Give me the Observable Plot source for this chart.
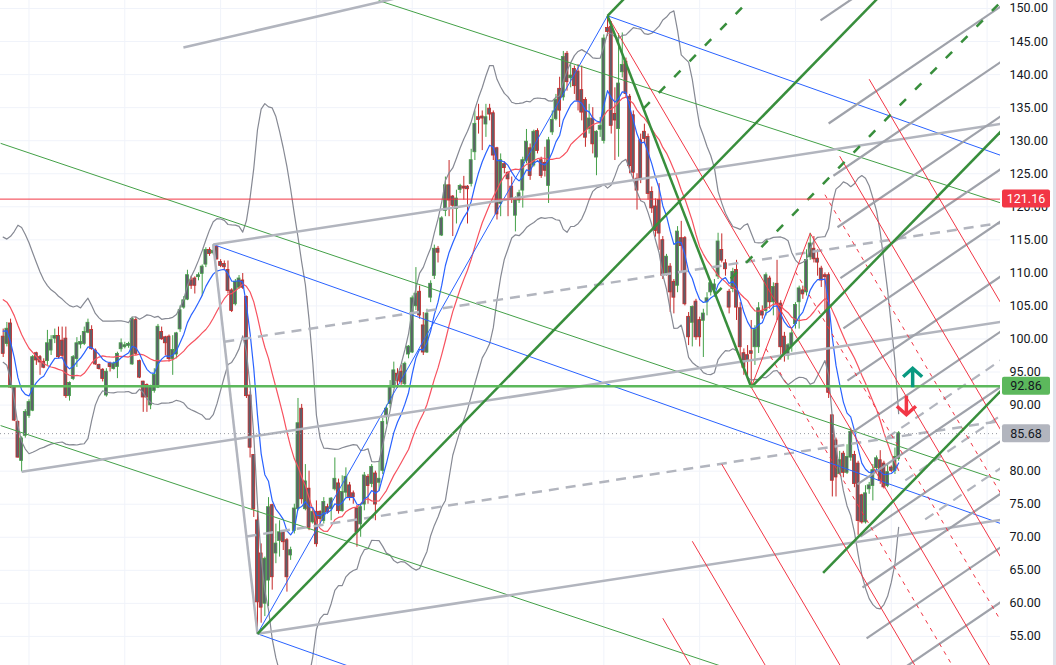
<!DOCTYPE html>
<html><head><meta charset="utf-8">
<script src="https://cdn.jsdelivr.net/npm/d3@7"></script>
<script src="https://cdn.jsdelivr.net/npm/@observablehq/plot@0.6"></script>
<style>
body{margin:0;background:#fff;font-family:Roboto,"Liberation Sans",sans-serif;}
#chart svg{display:block;}
</style>
</head><body><div id="chart"></div>
<script>
// ---------- candle data (bar index 0..243) ----------
const opens = [100.3,99.3,102.3,92.7,87.4,81.6,85.4,88.4,89.2,97.8,97.2,96.5,96.7,98.3,100.1,100.4,99.7,100.0,91.4,94.0,97.0,99.2,99.3,101.0,101.3,98.2,96.0,95.3,91.5,96.2,95.5,95.8,98.5,98.8,99.0,96.2,102.8,96.6,93.5,93.0,90.0,92.2,92.7,
101.0,100.2,100.3,97.0,97.7,101.5,104.8,106.0,108.8,109.1,109.4,109.9,111.3,113.4,113.0,113.9,111.6,111.3,110.4,107.3,105.3,107.8,108.8,106.3,91.4,82.4,72.5,67.5,60.0,63.5,74.8,67.6,69.5,70.7,69.5,67.3,71.0,74.3,
89.4,74.3,77.3,72.3,73.8,73.8,72.5,74.5,74.3,77.3,78.1,74.0,76.8,77.8,76.6,74.3,72.0,75.0,79.1,78.1,79.6,78.3,80.1,88.2,90.2,92.7,94.7,95.0,93.2,97.7,98.0,105.0,
107.1,102.0,98.0,106.3,109.6,113.6,115.7,119.4,123.2,121.5,119.7,122.6,123.0,123.0,123.5,128.3,133.5,133.6,132.5,134.8,134.1,128.8,120.5,126.4,125.1,123.0,118.7,121.0,122.5,127.0,128.8,126.3,131.4,127.0,126.6,123.2,131.3,133.3,
137.8,136.6,143.1,139.5,140.8,140.4,137.6,136.1,131.8,133.3,127.5,131.7,130.0,147.0,147.2,134.0,131.8,140.4,141.9,136.6,133.8,124.2,130.0,131.3,130.5,122.2,120.0,121.0,114.9,
109.9,110.9,108.6,108.1,115.2,115.2,103.3,102.5,105.6,102.8,102.8,105.6,107.1,107.5,109.5,113.4,111.4,107.1,107.6,110.4,104.6,97.8,97.5,
98.1,98.8,98.8,104.1,104.3,109.1,105.6,108.3,105.3,100.3,97.5,99.0,102.3,105.6,107.3,107.1,112.4,113.6,112.1,110.6,109.6,
109.6,88.4,84.6,79.6,82.6,79.8,82.1,82.4,81.1,76.3,72.3,77.3,77.8,80.5,81.6,81.1,77.8,80.5,80.1,81.9];
const highs = [101.5,102.5,103.0,92.9,87.6,85.2,89.3,90.8,97.5,98.0,97.5,97.0,101.3,100.5,101.5,101.8,101.8,101.8,93.5,97.5,100.2,100.5,101.8,103.0,102.0,98.5,96.2,95.5,95.5,96.5,96.5,98.0,100.0,99.5,99.5,103.3,103.3,96.8,93.6,93.2,93.0,95.5,102.2,
101.8,100.4,100.6,100.5,101.0,105.0,106.4,110.4,109.5,109.4,110.0,111.2,113.8,113.8,114.3,114.0,112.0,111.8,111.8,107.6,109.0,109.6,109.9,106.5,92.0,82.5,74.0,69.0,67.0,76.0,75.0,72.0,72.5,71.0,69.8,68.5,75.0,91.0,
90.1,81.0,80.0,74.5,75.5,74.0,76.0,75.0,76.0,82.0,78.8,79.3,80.5,78.3,77.0,74.8,75.0,79.8,79.5,81.0,80.0,81.5,88.0,90.0,93.7,96.5,95.5,96.0,96.5,99.0,106.5,110.8,
108.0,104.0,104.5,108.8,114.2,114.0,118.5,124.5,127.0,121.7,122.5,123.4,124.6,123.2,128.7,134.5,135.5,134.5,135.5,135.5,134.5,129.0,128.0,126.8,125.3,124.5,121.5,122.5,127.5,131.7,129.5,131.6,131.8,127.5,129.0,130.5,134.5,137.0,
139.6,143.5,143.5,141.5,141.3,141.5,141.3,136.5,135.5,135.0,131.5,133.5,146.0,148.9,148.0,138.0,146.2,146.3,142.5,137.0,134.5,125.0,131.0,132.5,131.0,123.0,121.2,123.5,115.5,
112.8,111.4,109.0,117.0,117.8,115.5,104.0,105.0,106.0,103.3,104.5,107.0,108.8,109.0,116.0,115.9,112.0,107.5,110.7,111.9,105.5,98.5,99.0,
102.8,102.0,105.5,105.0,110.0,109.5,108.5,111.9,105.8,101.0,99.3,101.5,105.5,108.0,108.0,113.5,116.0,115.5,113.5,111.0,110.0,
110.0,88.5,85.0,83.0,83.0,84.0,86.5,83.0,81.5,76.5,77.8,78.3,81.0,82.3,83.1,81.5,81.1,80.8,83.5,86.0];
const lows = [97.2,98.8,92.5,87.5,82.0,79.9,85.0,88.0,89.0,96.0,94.5,95.5,96.0,97.5,99.3,97.0,97.0,91.0,90.6,93.7,95.7,98.5,99.0,100.8,98.3,96.0,95.3,93.5,91.2,95.0,95.3,94.0,98.0,98.5,98.6,96.0,97.5,94.0,88.9,88.9,89.3,91.8,92.5,
99.8,97.5,96.5,94.5,97.0,101.0,104.5,105.8,107.5,106.8,108.8,106.5,110.8,112.5,112.7,111.9,110.8,110.4,106.8,104.0,105.0,107.5,107.5,91.0,82.0,73.0,55.4,57.0,58.0,59.5,62.0,66.0,67.0,68.0,61.7,66.5,70.5,74.0,
75.0,74.0,71.0,72.0,68.5,72.0,72.0,73.5,72.5,77.0,73.5,73.8,76.0,75.5,75.0,68.5,70.0,74.0,75.0,77.5,72.5,77.0,79.5,87.0,89.5,92.5,92.5,93.0,92.7,97.0,97.8,104.3,
103.0,97.5,97.8,105.5,109.0,111.5,115.5,118.5,118.5,115.5,117.4,122.0,121.0,117.4,123.0,127.0,131.0,128.5,130.5,133.0,127.0,118.0,118.5,125.0,118.5,120.5,116.2,120.5,119.8,126.5,124.0,126.0,128.0,124.3,124.5,120.5,130.8,133.0,
132.0,136.0,137.5,138.0,137.0,134.5,133.0,129.0,131.0,128.0,124.7,130.5,129.5,145.8,131.0,127.0,127.5,139.5,136.5,125.0,124.0,119.5,123.5,129.5,121.0,119.0,115.4,113.4,109.0,
109.5,104.0,103.8,107.0,110.0,105.0,99.0,98.8,99.8,98.8,97.2,103.5,106.5,106.3,109.0,111.5,109.5,103.8,107.0,102.8,97.0,94.5,94.3,
92.7,96.0,97.8,103.0,103.5,104.5,103.5,102.8,96.8,96.5,96.8,98.0,101.5,101.5,106.0,106.5,111.9,111.5,109.5,107.8,104.0,
91.0,76.1,76.1,79.5,79.0,79.5,81.5,77.5,70.3,72.0,72.0,76.5,75.5,80.0,78.0,77.3,77.5,79.8,79.5,81.5];
const closes = [97.8,101.5,92.7,87.7,82.1,84.9,88.9,90.4,97.2,96.8,96.5,95.7,99.3,99.8,100.4,97.3,97.5,91.4,93.3,97.2,99.3,99.5,101.0,102.4,98.5,96.2,95.5,94.0,95.0,95.8,96.2,97.7,99.3,99.0,99.2,103.0,97.8,94.2,91.2,91.2,92.7,94.5,101.8,
100.0,99.4,97.0,98.3,100.8,104.3,105.8,109.6,108.1,108.1,109.6,110.9,113.4,112.9,113.3,112.1,111.1,110.9,107.3,104.3,108.6,109.1,107.8,91.4,83.6,74.3,60.2,59.4,66.7,74.5,64.0,69.0,70.7,69.3,64.0,68.0,74.3,87.2,
75.8,78.4,71.5,73.8,69.0,72.8,75.3,73.8,75.8,78.8,74.0,76.8,79.1,76.1,76.1,70.8,74.5,79.3,77.8,80.6,75.0,78.8,87.4,89.4,92.7,95.2,93.7,93.5,96.2,98.8,106.1,106.8,
103.6,98.0,103.8,108.3,113.6,113.1,118.2,123.2,121.0,120.2,121.2,123.1,122.8,122.7,127.0,132.5,133.2,133.4,133.5,134.0,127.8,118.9,127.0,125.9,124.2,121.2,121.0,122.0,127.0,129.8,124.7,131.3,128.5,124.7,125.5,130.0,133.1,136.1,
134.6,142.6,138.9,139.8,138.3,136.1,134.3,130.5,133.3,129.5,131.3,132.2,145.4,146.5,132.3,133.1,138.6,141.4,137.1,126.2,125.2,122.5,124.2,130.3,122.0,119.8,116.4,116.0,109.6,
112.4,107.1,106.3,116.2,114.1,105.3,100.3,104.8,100.3,100.3,103.8,106.1,108.4,108.2,114.7,111.9,110.6,104.8,110.1,104.8,98.8,95.7,96.8,
97.8,101.3,104.6,103.6,109.6,105.6,107.8,105.3,98.8,97.8,99.0,100.8,105.1,107.6,106.8,111.9,114.4,112.1,111.6,108.9,109.4,
91.9,78.6,79.1,81.6,79.8,82.1,85.9,78.1,72.5,72.3,76.6,77.8,80.1,81.9,78.6,77.6,79.8,80.1,82.1,85.68];
// closes of the 20 sessions before the visible window (estimated from the indicator levels at the left edge)
const priorCloses = [108,109,110,111,112,112,111,110,110,109,108,106,105,104,103,102,101,100,99,99];

// ---------- axis ----------
const yTickValues = [55,60,65,70,75,80,90,95,100,105,110,115,120,125,130,135,140,145,150];
const gridTickValues = [55,60,65,70,75,80,85,90,95,100,105,110,115,120,125,130,135,140,145,150];
const gridBars = [7,33,59,85,111,137,163,189,215,241,267];

// ---------- price lines / tags ----------
const resistancePrice = 121.16;
const supportPrice = 92.86;
const lastPrice = 85.68;

// ---------- drawing anchors [bar, price] ----------
const grayForkA = [5, 79.9], grayForkB = [57, 114.3], grayForkC = [69, 55.4];
const greenForkA = [69, 55.4], greenForkB = [164, 148.9], greenForkC = [203, 92.7];
const redForkA = [164, 148.9], redForkB = [203, 92.7], redForkC = [219, 116.0];
// separate gray trend line [startBar, startPrice, endBar, endPrice]
const grayTrend = [[48.9, 144.1, 107.0, 151.6]];
// thin green channel lines
const greenChannel = [[-0.7,129.6,270.6,78.6],[-0.7,86.9,270.6,36.4],[101.9,151.2,270.6,120.6]];
// blue lines
const blueLines = [[57,114.3,270.6,72.1],[164,148.9,270.6,127.8],[69,55.4,270.6,15.5],[69,55.4,164,148.9]];
// right-side gray fan: start points [bar, price], common slope (price per bar)
const fanStarts = [[221.8,148.2],[224.0,132.6],[225.3,124.7],[226.4,116.9],[227.2,109.2],[228.0,101.6],[229.1,93.7],[230.5,85.9],[231.8,78.0],[232.6,70.1],[233.2,62.4],[234.3,54.7],[235.4,46.8]];
const fanDashedStarts = [[239.9,85.1],[244.8,78.6],[250.2,72.7]];
const fanSlope = 0.379;
// signal arrows [bar, price at centre]
const upArrow = [246.8, 94.2];
const downArrow = [245.1, 89.9];

// ---------- build ----------
const bars = closes.map((c, i) => ({i, o: opens[i], h: highs[i], l: lows[i], c, up: c >= opens[i]}));
const series = priorCloses.concat(closes);
const P = priorCloses.length;
const bb = closes.map((c, i) => {
  const j = i + P;
  const win = series.slice(Math.max(0, j - 19), j + 1);
  const m = d3.mean(win);
  const sd = Math.sqrt(d3.mean(win, v => (v - m) * (v - m)));
  return {i, m, up: m + 2 * sd, lo: m - 2 * sd};
});
const ema = [];
{
  const k = 2 / (9 + 1);
  let e = d3.mean(series.slice(0, 9));
  for (let j = 9; j < series.length; j++) {
    e = series[j] * k + e * (1 - k);
    if (j >= P) ema.push({i: j - P, v: e});
  }
}

function fork(A, B, C, levels) {
  const M = [(B[0] + C[0]) / 2, (B[1] + C[1]) / 2];
  const d = [M[0] - A[0], M[1] - A[1]];
  return levels.map(k => {
    const s = k === 0 ? A : [M[0] + k * (B[0] - M[0]), M[1] + k * (B[1] - M[1])];
    return {x1: s[0], y1: s[1], x2: s[0] + 6 * d[0], y2: s[1] + 6 * d[1]};
  });
}
function seg(P1, P2) { return {x1: P1[0], y1: P1[1], x2: P2[0], y2: P2[1]}; }
const rows = arr => arr.map(a => ({x1: a[0], y1: a[1], x2: a[2], y2: a[3]}));

const grayForkSolid = fork(grayForkA, grayForkB, grayForkC, [0, 1, -1]).concat([seg(grayForkB, grayForkC)], rows(grayTrend));
const grayForkDash = fork(grayForkA, grayForkB, grayForkC, [0.5, -0.5]);
const greenForkSolid = fork(greenForkA, greenForkB, greenForkC, [0, 1, -1, -2]).concat([seg(greenForkB, greenForkC)]);
const greenForkDash = fork(greenForkA, greenForkB, greenForkC, [0.5, -0.5]);
const redForkSolid = fork(redForkA, redForkB, redForkC, [0, -1, -2, -3, 1, 2, 3, 4, 5]).concat([seg(redForkB, redForkC)]);
const redForkDash = fork(redForkA, redForkB, redForkC, [0.5, -0.5, -1.5]);
const fanSolid = fanStarts.map(s => ({x1: s[0], y1: s[1], x2: s[0] + 60, y2: s[1] + 60 * fanSlope}));
const fanDash = fanDashedStarts.map(s => ({x1: s[0], y1: s[1], x2: s[0] + 60, y2: s[1] + 60 * fanSlope}));
const chan = rows(greenChannel);
const blues = rows(blueLines);
const lnk = (data, o) => Plot.link(data, {x1: "x1", y1: "y1", x2: "x2", y2: "y2", clip: true, ...o});

// arrow symbols (custom d3 symbol types)
const arrowUpSymbol = {draw(ctx, size) { const s = Math.sqrt(size / Math.PI);
  ctx.moveTo(0, s); ctx.lineTo(0, -s * 0.85); ctx.moveTo(-s * 0.95, -s * 0.05); ctx.lineTo(0, -s * 0.9); ctx.lineTo(s * 0.95, -s * 0.05); }};
const arrowDownSymbol = {draw(ctx, size) { const s = Math.sqrt(size / Math.PI);
  ctx.moveTo(0, -s); ctx.lineTo(0, s * 0.85); ctx.moveTo(-s * 0.95, s * 0.05); ctx.lineTo(0, s * 0.9); ctx.lineTo(s * 0.95, s * 0.05); }};

const UP = "#43a047", DN = "#c62828", BODY = "#5d606b";
const tags = [
  {price: resistancePrice, bg: "#f23645", fg: "#ffffff"},
  {price: supportPrice, bg: "#5cb85c", fg: "#131722"},
  {price: lastPrice, bg: "#b2b5be", fg: "#131722"}
];

function tagMark(index, scales, values, dimensions) {
  const g = d3.create("svg:g");
  const x0 = dimensions.width - dimensions.marginRight + 2;
  for (const t of tags) {
    const y = scales.y(t.price);
    g.append("rect").attr("x", x0).attr("y", y - 9).attr("width", 48).attr("height", 18).attr("rx", 2).attr("fill", t.bg);
    g.append("text").attr("x", x0 + 24).attr("y", y).attr("dy", "0.36em").attr("text-anchor", "middle")
      .attr("font-size", 12.5).attr("fill", t.fg).text(t.price.toFixed(2));
  }
  g.append("rect").attr("x", dimensions.width - 3).attr("y", 0).attr("width", 3).attr("height", dimensions.height).attr("fill", "#e0e3eb");
  return g.node();
}

const chart = Plot.plot({
  width: 1056, height: 665,
  marginLeft: 0, marginRight: 56, marginTop: 0, marginBottom: 0,
  style: {fontFamily: "Roboto, 'Liberation Sans', sans-serif", fontSize: "12.5px", background: "#ffffff", color: "#131722"},
  x: {domain: [-0.733, 270.64], axis: null},
  y: {domain: [50.6, 151.21]},
  marks: [
    Plot.ruleY(gridTickValues, {stroke: "#f0f3fa", strokeWidth: 1}),
    Plot.ruleX(gridBars, {stroke: "#f0f3fa", strokeWidth: 1}),
    // candles
    Plot.ruleX(bars, {x: "i", y1: "l", y2: "h", stroke: d => d.up ? UP : DN, strokeWidth: 1}),
    Plot.rect(bars, {x1: d => d.i - 0.4, x2: d => d.i + 0.4, y1: d => Math.min(d.o, d.c) - 0.05, y2: d => Math.max(d.o, d.c) + 0.05,
      fill: BODY, stroke: d => d.up ? UP : DN, strokeWidth: 0.8}),
    // indicators
    Plot.line(bb, {x: "i", y: "up", stroke: "#868993", strokeWidth: 1.2, clip: true}),
    Plot.line(bb, {x: "i", y: "lo", stroke: "#868993", strokeWidth: 1.2, clip: true}),
    Plot.line(bb, {x: "i", y: "m", stroke: "#f7525f", strokeWidth: 1.2, clip: true}),
    Plot.line(ema, {x: "i", y: "v", stroke: "#2962ff", strokeWidth: 1.2, clip: true}),
    // drawings
    lnk(chan, {stroke: "#43a047", strokeWidth: 1}),
    lnk(blues, {stroke: "#2962ff", strokeWidth: 1}),
    lnk(grayForkSolid, {stroke: "#b2b5be", strokeWidth: 2.5}),
    lnk(grayForkDash, {stroke: "#b2b5be", strokeWidth: 2.5, strokeDasharray: "10,7"}),
    lnk(fanSolid, {stroke: "#9fa2aa", strokeWidth: 2.2}),
    lnk(fanDash, {stroke: "#b2b5be", strokeWidth: 2.2, strokeDasharray: "10,7"}),
    lnk(redForkSolid, {stroke: "#f23645", strokeWidth: 1}),
    lnk(redForkDash, {stroke: "#f23645", strokeWidth: 1, strokeDasharray: "4,5"}),
    lnk(greenForkSolid, {stroke: "#388e3c", strokeWidth: 2.5}),
    lnk(greenForkDash, {stroke: "#388e3c", strokeWidth: 2.5, strokeDasharray: "9,13"}),
    // horizontal price lines
    Plot.ruleY([resistancePrice], {stroke: "#f23645", strokeWidth: 1}),
    Plot.ruleY([supportPrice], {stroke: "#5cb85c", strokeWidth: 2.5}),
    Plot.ruleY([lastPrice], {stroke: "#9598a1", strokeWidth: 1, strokeDasharray: "1,3"}),
    // signal arrows
    Plot.dot([upArrow], {x: d => d[0], y: d => d[1], r: 10, symbol: arrowUpSymbol, stroke: "#089981", strokeWidth: 3.5, fill: "none", strokeLinecap: "butt", strokeLinejoin: "miter"}),
    Plot.dot([downArrow], {x: d => d[0], y: d => d[1], r: 10, symbol: arrowDownSymbol, stroke: "#f23645", strokeWidth: 3.5, fill: "none", strokeLinecap: "butt", strokeLinejoin: "miter"}),
    // axis
    Plot.axisY(yTickValues, {anchor: "right", tickSize: 0, tickPadding: 9, tickFormat: d => d.toFixed(2), fill: "#131722", fontSize: 12.5}),
    tagMark
  ]
});
document.getElementById("chart").appendChild(chart);
</script>
</body></html>
